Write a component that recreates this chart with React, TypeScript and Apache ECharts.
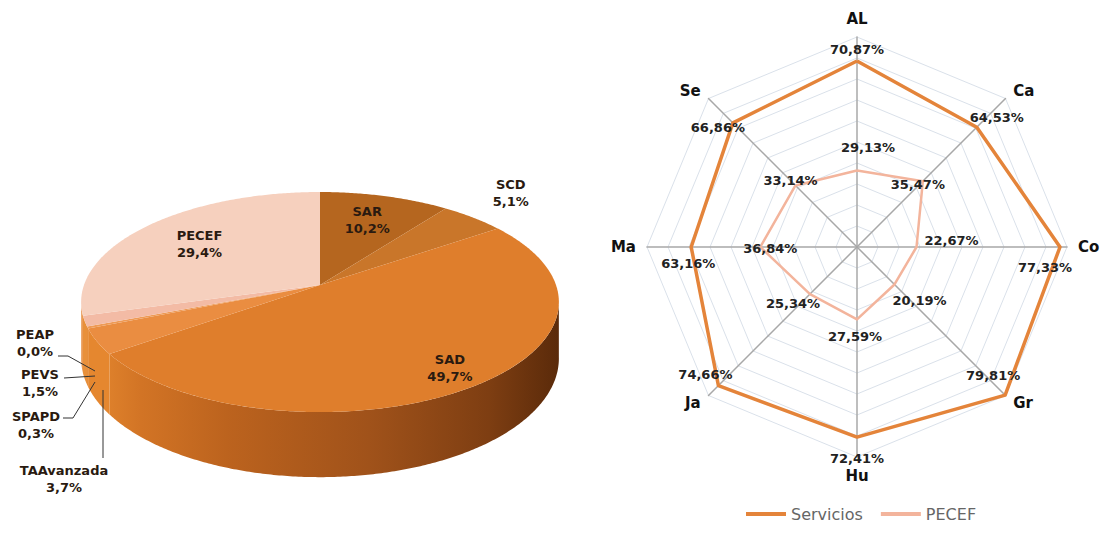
import React, { useEffect, useRef } from "react";
import * as echarts from "echarts";

// ---------- DATA ----------
const pieCategories = ["SAR", "SCD", "SAD", "TAAvanzada", "SPAPD", "PEVS", "PEAP", "PECEF"];
const pieValues = [10.2, 5.1, 49.7, 3.7, 0.3, 1.5, 0.0, 29.4];

const radarCategories = ["AL", "Ca", "Co", "Gr", "Hu", "Ja", "Ma", "Se"];
const serviciosValues = [70.87, 64.53, 77.33, 79.81, 72.41, 74.66, 63.16, 66.86];
const pecefValues = [29.13, 35.47, 22.67, 20.19, 27.59, 25.34, 36.84, 33.14];
const seriesNames = ["Servicios", "PECEF"];
const radarMax = 80;

// ---------- STYLE / LAYOUT ----------
const FONT = "DejaVu Sans";
const pieTopColors = ["#B5661F", "#C9762A", "#DF7E2C", "#EA8D41", "#EE9A55", "#F3BBA5", "#F4C0A2", "#F6D0BE"];
const pieSideColors = [null, null, "grad", "#E5872F", "#E5872F", "#E8903A", "#E8903A", "#E99A55"];
const pieLabelR = [0.7, 1.28, 0.85, 0, 0, 0, 0, 0.68];
const pieLabelDy = [0, -8, 0, 0, 0, 0, 0, 0];
const PG = { cx: 320, cy: 285, R: 236, Ry: 107.4, D: 6.46, h: 55 };
const VIS = 1.71;

const RC = { cx: 857, cy: 247, r: 210 };
const servOffsets = [[0, -11], [20, -10], [-15, 20], [-12, -20], [0, 21], [-13, -11], [-3, 16], [-15, 5]];
const pecefOffsets = [[11, -23], [-5, 3], [35, -7], [25, 16], [-2, 17], [-17, 9], [10, 1], [-5, -5]];

function project(theta: number, r = 1, drop = 0): number[] {
  const X = r * Math.sin(theta);
  const Z = r * Math.cos(theta);
  const s = PG.D / (PG.D + Z);
  return [PG.cx + PG.R * X * s, PG.cy - PG.Ry * Z * s + drop * s];
}

function arc(a: number, b: number, drop = 0): number[][] {
  const pts: number[][] = [];
  const n = Math.max(2, Math.ceil((b - a) / 0.01));
  for (let k = 0; k <= n; k++) pts.push(project(a + ((b - a) * k) / n, 1, drop));
  return pts;
}

const total = pieValues.reduce((a, b) => a + b, 0);
function sliceRange(i: number): number[] {
  let c = 0;
  for (let k = 0; k < i; k++) c += pieValues[k];
  return [(c / total) * Math.PI * 2, ((c + pieValues[i]) / total) * Math.PI * 2];
}
const fmt1 = (v: number) => v.toFixed(1).replace(".", ",") + "%";
const fmt2 = (v: number) => v.toFixed(2).replace(".", ",") + "%";

function radarPoint(k: number, v: number): number[] {
  const ang = Math.PI / 2 - (k * Math.PI * 2) / radarCategories.length;
  const rr = (v / radarMax) * RC.r;
  return [RC.cx + rr * Math.cos(ang), RC.cy - rr * Math.sin(ang)];
}

// ECharts places radar indicators counter-clockwise; reorder to get clockwise
const ccw = radarCategories.map((_, j) => (radarCategories.length - j) % radarCategories.length);

export default function App() {
  const ref = useRef<HTMLDivElement>(null);
  useEffect(() => {
    if (!ref.current) return;
    const chart = echarts.init(ref.current, null, { renderer: "svg" });
    const sideGrad = new echarts.graphic.LinearGradient(
      84, 0, 560, 0,
      [
        { offset: 0, color: "#E6892F" },
        { offset: 0.12, color: "#D27425" },
        { offset: 0.3, color: "#BC631E" },
        { offset: 0.6, color: "#A0521A" },
        { offset: 0.85, color: "#7E3E12" },
        { offset: 1, color: "#5A2A0A" },
      ],
      true
    );

    const labelTexts: any[] = [];
    radarCategories.forEach((_, k) => {
      const p = radarPoint(k, serviciosValues[k]);
      labelTexts.push({
        type: "text",
        x: p[0] + servOffsets[k][0],
        y: p[1] + servOffsets[k][1],
        z: 10,
        style: { text: fmt2(serviciosValues[k]), font: `bold 13px "${FONT}"`, fill: "#222", align: "center", verticalAlign: "middle", textAlign: "center", textVerticalAlign: "middle" },
      });
      const q = radarPoint(k, pecefValues[k]);
      labelTexts.push({
        type: "text",
        x: q[0] + pecefOffsets[k][0],
        y: q[1] + pecefOffsets[k][1],
        z: 10,
        style: { text: fmt2(pecefValues[k]), font: `bold 13px "${FONT}"`, fill: "#222", align: "center", verticalAlign: "middle", textAlign: "center", textVerticalAlign: "middle" },
      });
    });

    // outside labels for the small pie slices
    const smallLabels = [
      { i: 6, x: 35, y: 343, line: [[58, 356], [68, 356], [95, 371]] },
      { i: 5, x: 40, y: 383, line: [[64, 378], [95, 376]] },
      { i: 4, x: 36, y: 425, line: [[63, 418], [73, 418], [95, 382]] },
      { i: 3, x: 64, y: 479, line: [[103, 390], [103, 458]] },
    ];
    const pieOuter: any[] = [];
    smallLabels.forEach((s) => {
      pieOuter.push({
        type: "text",
        x: s.x,
        y: s.y,
        z: 10,
        style: { text: pieCategories[s.i] + "\n" + fmt1(pieValues[s.i]), font: `bold 13px "${FONT}"`, lineHeight: 17, fill: "#2a1a10", align: "center", verticalAlign: "middle", textAlign: "center", textVerticalAlign: "middle" },
      });
      pieOuter.push({
        type: "polyline",
        z: 10,
        shape: { points: s.line },
        style: { stroke: "#333", lineWidth: 1, fill: null },
      });
    });

    chart.setOption({
      animation: false,
      backgroundColor: "#ffffff",
      color: ["#E4843A", "#F3B49C"],
      legend: {
        left: 741,
        top: 501,
        itemWidth: 40,
        itemHeight: 4,
        itemGap: 18,
        icon: "rect",
        data: seriesNames,
        textStyle: { color: "#666", fontSize: 16, fontFamily: FONT },
      },
      radar: {
        center: [RC.cx, RC.cy],
        radius: RC.r,
        startAngle: 90,
        shape: "polygon",
        splitNumber: 10,
        nameGap: 11,
        axisName: { color: "#111", fontWeight: "bold", fontSize: 15, fontFamily: FONT },
        indicator: ccw.map((k) => ({ name: radarCategories[k], min: 0, max: radarMax })),
        splitLine: { lineStyle: { color: "#DAE1EA", width: 1 } },
        splitArea: { show: false },
        axisLine: { lineStyle: { color: "#A8A8A8", width: 1.5 } },
      },
      graphic: [...labelTexts, ...pieOuter],
      series: [
        {
          type: "radar",
          name: seriesNames[0],
          symbol: "none",
          z: 3,
          itemStyle: { color: "#E4843A" },
          lineStyle: { color: "#E4843A", width: 3.5 },
          data: [{ name: seriesNames[0], value: ccw.map((k) => serviciosValues[k]) }],
        },
        {
          type: "radar",
          name: seriesNames[1],
          symbol: "none",
          z: 2,
          itemStyle: { color: "#F3B49C" },
          lineStyle: { color: "#F3B49C", width: 2.5 },
          data: [{ name: seriesNames[1], value: ccw.map((k) => pecefValues[k]) }],
        },
        {
          type: "custom",
          coordinateSystem: "none",
          z: 1,
          silent: true,
          data: pieValues.map((v) => [v]),
          renderItem: (params: any, api: any) => {
            const i = params.dataIndex;
            if (!(api.value(0) > 0)) return null;
            const [s, e] = sliceRange(i);
            const a = Math.max(s, VIS);
            const b = Math.min(e, Math.PI * 2 - VIS);
            if (b <= a || !pieSideColors[i]) return null;
            const pts = arc(a, b, 0).concat(arc(a, b, PG.h).reverse());
            return {
              type: "polygon",
              shape: { points: pts },
              style: { fill: pieSideColors[i] === "grad" ? sideGrad : pieSideColors[i], stroke: null },
            };
          },
        },
        {
          type: "custom",
          coordinateSystem: "none",
          z: 2,
          silent: true,
          data: pieValues.map((v) => [v]),
          renderItem: (params: any, api: any) => {
            const i = params.dataIndex;
            const v = api.value(0);
            if (!(v > 0)) return null;
            const [s, e] = sliceRange(i);
            const pts = [[PG.cx, PG.cy]].concat(arc(s, e, 0));
            const children: any[] = [
              { type: "polygon", shape: { points: pts }, style: { fill: pieTopColors[i], stroke: null } },
            ];
            if (pieLabelR[i] > 0) {
              const p = project((s + e) / 2, pieLabelR[i], 0);
              children.push({
                type: "text",
                x: p[0],
                y: p[1] + pieLabelDy[i],
                z2: 5,
                style: {
                  text: pieCategories[i] + "\n" + fmt1(v),
                  font: `bold 13px "${FONT}"`,
                  lineHeight: 17,
                  fill: "#2a1a10",
                  align: "center",
                  verticalAlign: "middle",
                },
              });
            }
            return { type: "group", children };
          },
        },
      ],
    });
    return () => chart.dispose();
  }, []);
  return <div ref={ref} style={{ position: "absolute", left: 0, top: 0, width: 1109, height: 534, background: "#fff" }} />;
}
